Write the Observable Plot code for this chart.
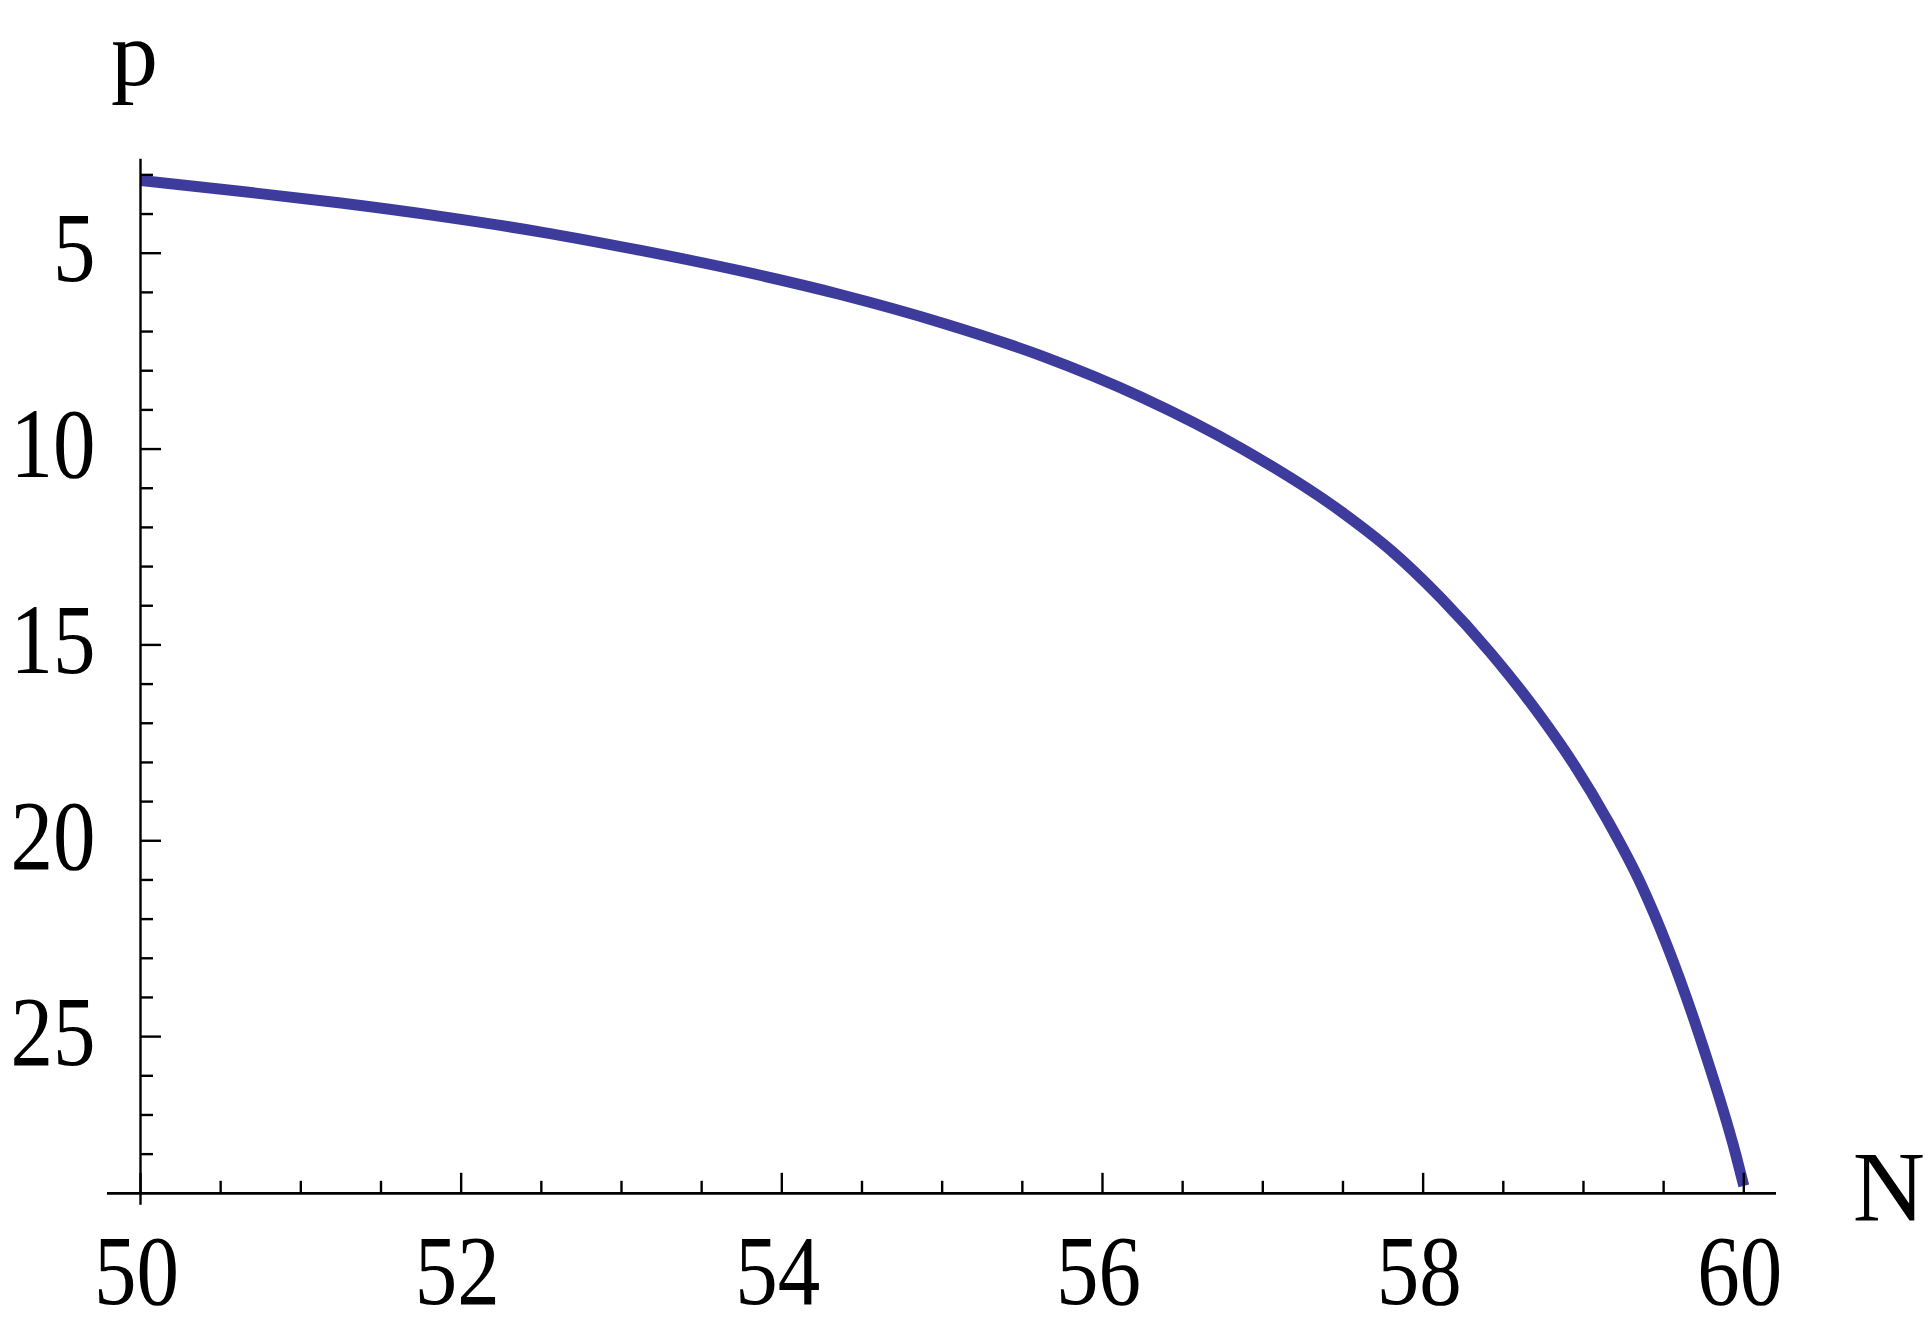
<!DOCTYPE html>
<html>
<head>
<meta charset="utf-8">
<script src="https://cdn.jsdelivr.net/npm/d3@7"></script>
<script src="https://cdn.jsdelivr.net/npm/@observablehq/plot@0.6"></script>
<style>
  html, body { margin: 0; padding: 0; background: #ffffff; }
  #chart svg { display: block; }
  #chart svg text { font-family: "Liberation Serif", "Times New Roman", Times, serif; }
</style>
</head>
<body>
<div id="chart"></div>
<script>
// ---- data ----
const N = [50, 50.62, 51.25, 51.87, 52.5, 53.12, 53.75, 54.37, 55, 55.62, 56.24, 56.87,
           57.49, 57.8, 58.11, 58.42, 58.73, 58.94, 59.15, 59.36, 59.52, 59.75, 59.95, 60];
const p = [3.14, 3.42, 3.72, 4.06, 4.46, 4.93, 5.46, 6.06, 6.78, 7.62, 8.67, 9.99,
           11.60, 12.59, 13.80, 15.20, 16.81, 18.05, 19.48, 21.12, 22.66, 25.31, 28.01, 28.81];

const xDomain = [50, 60];
const yDomain = [2.6, 29];
const xMajorTicks = [50, 52, 54, 56, 58, 60];
const xTickLabels = ["50", "52", "54", "56", "58", "60"];
const xMinorTicks = [50.5, 51, 51.5, 52.5, 53, 53.5, 54.5, 55, 55.5, 56.5, 57, 57.5, 58.5, 59, 59.5];
const yMajorTicks = [5, 10, 15, 20, 25];
const yTickLabels = ["5", "10", "15", "20", "25"];
const yMinorTicks = [3, 4, 6, 7, 8, 9, 11, 12, 13, 14, 16, 17, 18, 19, 21, 22, 23, 24, 26, 27, 28];
const xAxisLabel = ["N"];
const yAxisLabel = ["p"];

// ---- layout ----
const width = 1932, height = 1331;
const marginLeft = 140, marginRight = 188.7, marginTop = 158.7, marginBottom = 138.2;
const frameW = width - marginLeft - marginRight;
const frameH = height - marginTop - marginBottom;
const serif = "'Liberation Serif', 'Times New Roman', Times, serif";
const ink = "#000000";
const curveColor = "#3d3b9c";

const rows = N.map((n, i) => ({N: n, p: p[i]}));

const chart = Plot.plot({
  width, height, marginLeft, marginRight, marginTop, marginBottom,
  style: {background: "#ffffff", fontFamily: serif},
  x: {domain: xDomain, axis: null},
  y: {domain: yDomain, reverse: true, axis: null},
  marks: [
    Plot.line(rows, {x: "N", y: "p", stroke: curveColor, strokeWidth: 11, curve: "monotone-x", strokeLinecap: "butt"}),
    // axis lines
    Plot.ruleY([yDomain[1]], {stroke: ink, strokeWidth: 2.8, insetLeft: -33, insetRight: -32.7}),
    Plot.ruleX([xDomain[0]], {stroke: ink, strokeWidth: 2.4, insetBottom: -12}),
    // x ticks (pointing up)
    Plot.ruleX(xMajorTicks, {x: d => d, stroke: ink, strokeWidth: 2.4, insetTop: frameH - 20}),
    Plot.ruleX(xMinorTicks, {x: d => d, stroke: ink, strokeWidth: 2.4, insetTop: frameH - 12}),
    // y ticks (pointing right)
    Plot.ruleY(yMajorTicks, {y: d => d, stroke: ink, strokeWidth: 2.4, insetRight: frameW - 21}),
    Plot.ruleY(yMinorTicks, {y: d => d, stroke: ink, strokeWidth: 2.4, insetRight: frameW - 13}),
    // tick labels
    Plot.text(xMajorTicks, {x: d => d, frameAnchor: "bottom", text: (d, i) => xTickLabels[i],
      textAnchor: "middle", lineAnchor: "bottom", dx: -4, dy: 111,
      fontSize: 100, fontFamily: serif, fill: ink}),
    Plot.text(yMajorTicks, {y: d => d, frameAnchor: "left", text: (d, i) => yTickLabels[i],
      textAnchor: "end", lineAnchor: "bottom", dx: -45, dy: 28,
      fontSize: 100, fontFamily: serif, fill: ink}),
    // axis names
    Plot.text(yAxisLabel, {frameAnchor: "top-left", text: d => d, textAnchor: "middle",
      lineAnchor: "bottom", dx: -6, dy: -74.5, fontSize: 94, fontFamily: serif, fill: ink}),
    Plot.text(xAxisLabel, {frameAnchor: "bottom-right", text: d => d, textAnchor: "start",
      lineAnchor: "bottom", dx: 109, dy: 26.5, fontSize: 100, fontFamily: serif, fill: ink})
  ]
});

// narrow the numeric tick labels horizontally, as in the reference typeface
chart.querySelectorAll("text").forEach(el => {
  if (/^\d+$/.test(el.textContent.trim())) {
    const t = el.getAttribute("transform") || "";
    const x = +(el.getAttribute("x") || 0);
    el.setAttribute("transform", `${t} translate(${x},0) scale(0.85,1) translate(${-x},0)`.trim());
  }
});

document.getElementById("chart").appendChild(chart);
</script>
</body>
</html>
